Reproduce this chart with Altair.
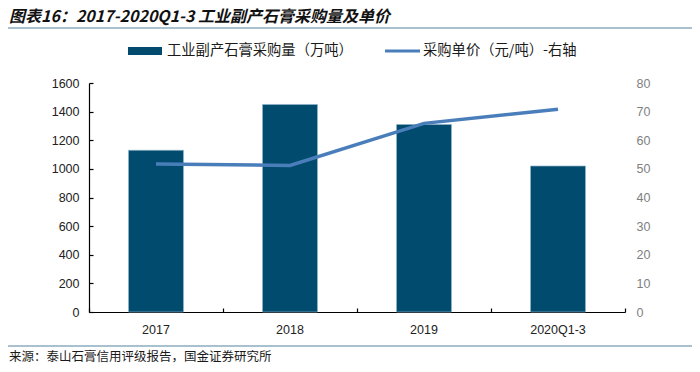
import altair as alt
import pandas as pd

categories = ["2017", "2018", "2019", "2020Q1-3"]
volume = [1130, 1450, 1310, 1020]          # 万吨 (left axis)
price = [51.7, 51.2, 65.9, 70.8]           # 元/吨 (right axis)
left_ticks = [0, 200, 400, 600, 800, 1000, 1200, 1400, 1600]
right_ticks = [0, 10, 20, 30, 40, 50, 60, 70, 80]

title_text = "图表16：2017-2020Q1-3 工业副产石膏采购量及单价"
legend_bar = "工业副产石膏采购量（万吨）"
legend_line = "采购单价（元/吨）-右轴"
source_text = "来源：泰山石膏信用评级报告，国金证券研究所"

BAR_COLOR = "#004B6E"
LINE_COLOR = "#4A7EBB"
RULE_COLOR = "#A9C0CF"
CJK = "Noto Sans CJK SC"
LAT = "Liberation Sans"

W, H = 536, 229

df = pd.DataFrame({"cat": categories, "vol": volume, "price": price})
xscale = alt.Scale(domain=categories, paddingInner=0, paddingOuter=0)
yscale = alt.Scale(domain=[0, 1600], nice=False)

bars = alt.Chart(df).mark_bar(
    width=alt.RelativeBandSize(0.41), color=BAR_COLOR, stroke="#8FB3C9", strokeWidth=0.7
).encode(
    x=alt.X("cat:N", sort=categories, scale=xscale,
            axis=alt.Axis(title=None, labelAngle=0, ticks=False, domainColor="#000000",
                          domainWidth=1.2, labelFont=LAT, labelFontSize=12.5,
                          labelColor="#222222", labelPadding=11, orient="bottom")),
    y=alt.Y("vol:Q", scale=yscale,
            axis=alt.Axis(title=None, values=left_ticks, format="d", ticks=False, grid=False,
                          domainColor="#000000", domainWidth=1.2, labelFont=LAT,
                          labelFontSize=12.5, labelColor="#222222", labelPadding=10,
                          orient="left")),
)

tick_layer = alt.Chart(df).mark_bar(opacity=0, width=alt.RelativeBandSize(0.41)).encode(
    x=alt.X("cat:N", sort=categories, scale=xscale,
            axis=alt.Axis(title=None, orient="top", offset=-H, labels=False, domain=False,
                          ticks=True, tickBand="extent", tickSize=4, tickColor="#000000",
                          tickWidth=1.2)),
    y=alt.Y("vol:Q", scale=yscale,
            axis=alt.Axis(title=None, orient="right", offset=-W, labels=False, domain=False,
                          ticks=True, tickSize=4, tickColor="#000000", tickWidth=1.2,
                          values=left_ticks, grid=False)),
)

inner = alt.layer(bars, tick_layer).resolve_axis(x="independent", y="independent")

line = alt.Chart(df).mark_line(color=LINE_COLOR, strokeWidth=3.5).encode(
    x=alt.X("cat:N", sort=categories, scale=xscale, axis=None),
    y=alt.Y("price:Q", scale=alt.Scale(domain=[0, 80], nice=False),
            axis=alt.Axis(title=None, orient="right", values=right_ticks, domain=False,
                          ticks=False, grid=False, labelColor="#808080", labelFont=LAT,
                          labelFontSize=12.5, labelPadding=11, labelAlign="left")),
)

one = pd.DataFrame({"a": [0]})


def text_layer(txt, x, y, size, bold=False, italic=False, color="#1a1a1a",
               baseline="middle", font=CJK):
    return alt.Chart(pd.DataFrame({"t": [txt]})).mark_text(
        align="left", baseline=baseline, font=font, fontSize=size,
        fontWeight="bold" if bold else "normal",
        fontStyle="italic" if italic else "normal", color=color,
    ).encode(text="t:N", x=alt.value(x), y=alt.value(y))


title = text_layer(title_text, -80, -66, 16, bold=True, italic=True, color="#111111",
                   baseline="middle")
top_rule = alt.Chart(one).mark_rule(color=RULE_COLOR, strokeWidth=2).encode(
    x=alt.value(-81), x2=alt.value(603), y=alt.value(-55))
bottom_rule = alt.Chart(one).mark_rule(color=RULE_COLOR, strokeWidth=2).encode(
    x=alt.value(-81), x2=alt.value(603), y=alt.value(263))
source = text_layer(source_text, -80, 274, 12.5)

leg_rect = alt.Chart(one).mark_rect(color=BAR_COLOR).encode(
    x=alt.value(39), x2=alt.value(73), y=alt.value(-36), y2=alt.value(-28))
leg_text1 = text_layer(legend_bar, 78, -32, 14.3)
leg_line = alt.Chart(one).mark_rule(color=LINE_COLOR, strokeWidth=3).encode(
    x=alt.value(296), x2=alt.value(331), y=alt.value(-32))
leg_text2 = text_layer(legend_line, 334, -32, 14.3)

chart = alt.layer(
    inner, line, title, top_rule, bottom_rule, source, leg_rect, leg_text1, leg_line, leg_text2
).resolve_scale(y="independent").resolve_axis(x="independent").properties(
    width=W, height=H,
    autosize=alt.AutoSizeParams(type="none"),
    padding={"left": 81, "top": 75, "right": 67, "bottom": 52},
    background="white",
).configure_view(stroke=None)

chart.save("out.html", embed_options={"renderer": "svg", "actions": False})
